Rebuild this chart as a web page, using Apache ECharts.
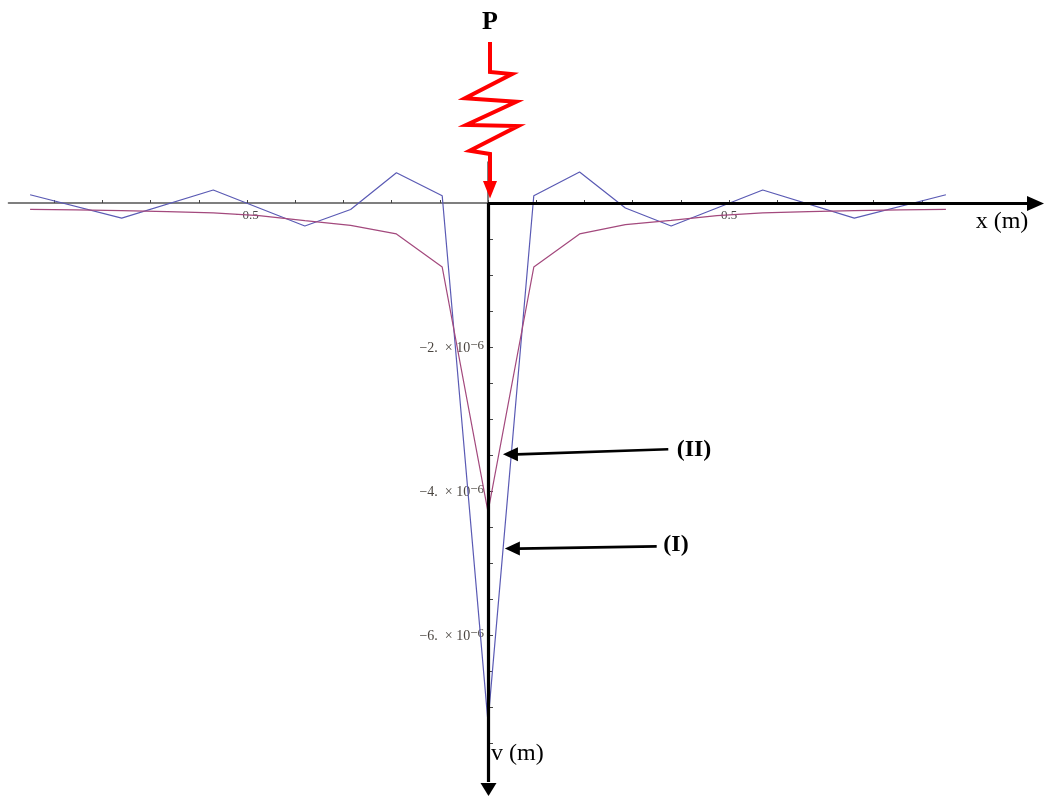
<!DOCTYPE html>
<html>
<head>
<meta charset="utf-8">
<title>Deflection v(x)</title>
<script src="https://cdn.jsdelivr.net/npm/echarts@6/dist/echarts.min.js"></script>
<style>
  html, body { margin: 0; padding: 0; background: #fff; }
  #chart { width: 1045px; height: 796px; }
</style>
</head>
<body>
<div id="chart"></div>
<script>
// Deflection v (in units of 1e-6 m) along the beam, position x in m.
// Curve (I)
const xI = [-0.95, -0.76, -0.57, -0.38, -0.285, -0.19, -0.095, 0, 0.095, 0.19, 0.285, 0.38, 0.57, 0.76, 0.95];
const vI = [0.115, -0.21, 0.18, -0.32, -0.09, 0.42, 0.10, -7.21, 0.10, 0.43, -0.07, -0.32, 0.18, -0.21, 0.115];
// Curve (II)
const xII = [-0.95, -0.855, -0.76, -0.665, -0.57, -0.475, -0.38, -0.285, -0.19, -0.095, 0,
             0.095, 0.19, 0.285, 0.38, 0.475, 0.57, 0.665, 0.76, 0.855, 0.95];
const vII = [-0.088, -0.095, -0.107, -0.12, -0.137, -0.175, -0.245, -0.31, -0.43, -0.89, -4.29,
             -0.89, -0.43, -0.30, -0.24, -0.175, -0.137, -0.12, -0.107, -0.095, -0.088];

// Axis ticks and labels
const xTicks = [-0.9, -0.8, -0.7, -0.6, -0.5, -0.4, -0.3, -0.2, -0.1, 0, 0.1, 0.2, 0.3, 0.4, 0.5, 0.6, 0.7, 0.8, 0.9];
const xLabels = [-0.5, 0.5];
const yTicks = [-7.5, -7, -6.5, -6, -5.5, -5, -4.5, -4, -3.5, -3, -2.5, -2, -1.5, -1, -0.5];
const yLabels = [-2, -4, -6];

const chart = echarts.init(document.getElementById('chart'), null, { renderer: 'canvas' });

const serif = '"Liberation Serif", "DejaVu Serif", serif';
const X_MIN = -0.995, X_MAX = 0.995, Y_MIN = -7.6, Y_MAX = 0.57;
const PX_PER_X = 482, PX_PER_Y = 72, ORIGIN_X = 488, ORIGIN_Y = 203;

const gridLeft = ORIGIN_X + X_MIN * PX_PER_X;
const gridTop = ORIGIN_Y - Y_MAX * PX_PER_Y;
const gridW = (X_MAX - X_MIN) * PX_PER_X;
const gridH = (Y_MAX - Y_MIN) * PX_PER_Y;

const option = {
  animation: false,
  backgroundColor: '#ffffff',
  grid: {
    left: gridLeft, width: gridW, top: gridTop, height: gridH,
    containLabel: false,
    outerBoundsMode: 'none'
  },
  xAxis: {
    type: 'value',
    min: X_MIN, max: X_MAX,
    position: 'bottom',
    // move the whole axis (line, ticks, labels) up to v = 0
    offset: -(gridTop + gridH - ORIGIN_Y),
    splitLine: { show: false },
    axisLine: { onZero: false, lineStyle: { color: '#555', width: 1.5 } },
    axisTick: { inside: true, length: 3, customValues: xTicks, lineStyle: { color: '#444', width: 1 } },
    axisLabel: {
      customValues: xLabels,
      margin: 6,
      fontFamily: serif, fontSize: 13, color: '#4a4a4a',
      formatter: v => (v < 0 ? '\u2212' : '') + Math.abs(v).toString()
    }
  },
  yAxis: {
    type: 'value',
    min: Y_MIN, max: Y_MAX,
    position: 'left',
    // move the whole axis right to x = 0
    offset: -(ORIGIN_X - gridLeft),
    splitLine: { show: false },
    axisLine: { onZero: false, lineStyle: { color: '#555', width: 1.5 } },
    axisTick: { inside: true, length: 5, customValues: yTicks, lineStyle: { color: '#444', width: 1 } },
    axisLabel: {
      customValues: yLabels,
      margin: 4,
      fontFamily: serif, color: '#4a4540',
      formatter: v => '{b|\u2212' + Math.abs(v) + '.  \u00d7 10}{s|\u22126}',
      rich: {
        b: { fontFamily: serif, fontSize: 14, color: '#4a4540', verticalAlign: 'bottom', lineHeight: 16 },
        s: { fontFamily: serif, fontSize: 13, color: '#4a4540', verticalAlign: 'top', lineHeight: 16, padding: [0, 0, 9, 0] }
      }
    }
  },
  series: [
    {
      name: '(I)', type: 'line', symbol: 'none', z: 3,
      data: xI.map((x, i) => [x, vI[i]]),
      lineStyle: { color: '#5a5ab4', width: 1.2 }
    },
    {
      name: '(II)', type: 'line', symbol: 'none', z: 3,
      data: xII.map((x, i) => [x, vII[i]]),
      lineStyle: { color: '#a3497d', width: 1.2 }
    }
  ]
};

chart.setOption(option);

// Overlays: heavy axis arrows, the spring load P, labels and pointer arrows
const W = chart.getWidth(), H = chart.getHeight();
const o = chart.convertToPixel({ gridIndex: 0 }, [0, 0]);
const px = p => chart.convertToPixel({ gridIndex: 0 }, p);

function pointer(tail, tip) {
  const a = px(tail), b = px(tip);
  return [
    { type: 'line', z: 100, shape: { x1: a[0], y1: a[1], x2: b[0] + 14, y2: b[1] },
      style: { stroke: '#000', lineWidth: 2.7 } },
    { type: 'polygon', z: 100, shape: { points: [[b[0], b[1]], [b[0] + 15, b[1] - 7], [b[0] + 15, b[1] + 7]] },
      style: { fill: '#000' } }
  ];
}

const sx = o[0] + 2;
const graphics = [
  // heavy x axis with arrow
  { type: 'line', z: 100, shape: { x1: o[0], y1: o[1] + 0.5, x2: W - 16, y2: o[1] + 0.5 },
    style: { stroke: '#000', lineWidth: 3.2 } },
  { type: 'polygon', z: 100, shape: { points: [[W - 1, o[1] + 0.5], [W - 18, o[1] - 7], [W - 18, o[1] + 8]] },
    style: { fill: '#000' } },
  // heavy v axis with arrow
  { type: 'line', z: 100, shape: { x1: o[0] + 0.5, y1: o[1], x2: o[0] + 0.5, y2: H - 14 },
    style: { stroke: '#000', lineWidth: 3.2 } },
  { type: 'polygon', z: 100, shape: { points: [[o[0] + 0.5, H], [o[0] - 7.5, H - 13], [o[0] + 8.5, H - 13]] },
    style: { fill: '#000' } },
  // spring load P
  { type: 'polyline', z: 101, shape: { points: [
      [sx, o[1] - 161], [sx, o[1] - 131], [sx + 22, o[1] - 129], [sx - 25, o[1] - 104.7],
      [sx + 26.3, o[1] - 101.3], [sx - 23.7, o[1] - 78], [sx + 28, o[1] - 77],
      [sx - 20.3, o[1] - 52.3], [sx, o[1] - 49], [sx, o[1] - 21]] },
    style: { stroke: '#ff0000', lineWidth: 4, fill: null, lineJoin: 'miter', lineCap: 'butt' } },
  { type: 'polygon', z: 101, shape: { points: [[sx - 7, o[1] - 22], [sx + 7, o[1] - 22], [sx, o[1] - 4.5]] },
    style: { fill: '#ff0000' } },
  { type: 'text', z: 101, style: { text: 'P', x: sx, y: 22, align: 'center', verticalAlign: 'middle',
      font: 'bold 26px ' + serif, fill: '#000' } },
  // axis titles
  { type: 'text', z: 101, style: { text: 'x (m)', x: 1002, y: o[1] + 19, align: 'center', verticalAlign: 'middle',
      font: '24px ' + serif, fill: '#000' } },
  { type: 'text', z: 101, style: { text: 'v (m)', x: o[0] + 3, y: H - 42, align: 'left', verticalAlign: 'middle',
      font: '24px ' + serif, fill: '#000' } },
  // curve labels
  { type: 'text', z: 101, style: { text: '(II)', x: 694, y: 450, align: 'center', verticalAlign: 'middle',
      font: 'bold 24px ' + serif, fill: '#000' } },
  { type: 'text', z: 101, style: { text: '(I)', x: 676, y: 545, align: 'center', verticalAlign: 'middle',
      font: 'bold 24px ' + serif, fill: '#000' } }
];

graphics.push(...pointer([0.374, -3.42], [0.031, -3.49]));
graphics.push(...pointer([0.35, -4.77], [0.035, -4.8]));

chart.setOption({ graphic: graphics });
</script>
</body>
</html>
